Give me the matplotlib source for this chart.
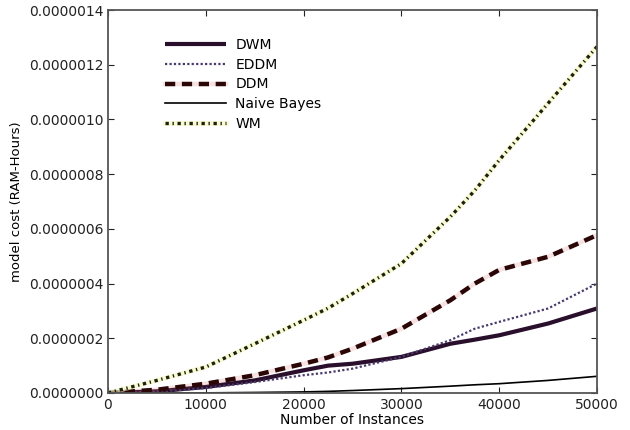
import matplotlib
matplotlib.use("Agg")
import matplotlib.pyplot as plt
from matplotlib.ticker import FormatStrFormatter
from matplotlib.legend_handler import HandlerTuple

# Number of processed instances
instances = [0, 5000, 10000, 15000, 20000, 22500, 25000, 30000, 35000, 37500, 40000, 45000, 50000]

# Model cost in RAM-Hours (units of 1e-6)
dwm = [0, 0.006, 0.022, 0.046, 0.083, 0.100, 0.107, 0.132, 0.180, 0.195, 0.211, 0.254, 0.309]
eddm = [0, 0.005, 0.018, 0.040, 0.065, 0.075, 0.089, 0.132, 0.193, 0.235, 0.260, 0.309, 0.400]
ddm = [0, 0.012, 0.034, 0.065, 0.107, 0.130, 0.162, 0.235, 0.339, 0.400, 0.450, 0.498, 0.577]
naive_bayes = [0, 0.0, 0.0005, 0.002, 0.004, 0.006, 0.009, 0.016, 0.025, 0.030, 0.034, 0.046, 0.061]
wm = [0, 0.046, 0.095, 0.180, 0.266, 0.310, 0.363, 0.473, 0.644, 0.740, 0.851, 1.059, 1.266]

labels = ["DWM", "EDDM", "DDM", "Naive Bayes", "WM"]

scale = 1e-6
def s(vals):
    return [v * scale for v in vals]

fig = plt.figure(figsize=(6.3, 4.3), dpi=100)
ax = fig.add_axes([108 / 630, 37 / 430, 489 / 630, 383 / 430])

h_dwm, = ax.plot(instances, s(dwm), color="#2a0f2c", lw=3.0, solid_capstyle="butt")
h_eddm, = ax.plot(instances, s(eddm), color="#4a3a6a", lw=1.6, ls=(0, (1, 1)))
ddm_under, = ax.plot(instances, s(ddm), color="#d06060", lw=3.2, alpha=0.18)
ddm_top, = ax.plot(instances, s(ddm), color="#2a0606", lw=3.2, ls=(0, (2.3, 1.5)))
h_nb, = ax.plot(instances, s(naive_bayes), color="black", lw=1.2)
wm_under, = ax.plot(instances, s(wm), color="#f4f7b8", lw=3.4, alpha=0.6)
wm_top, = ax.plot(instances, s(wm), color="#1e2010", lw=2.4, ls=(0, (1.0, 1.1, 0.4, 1.1)))

ax.set_xlim(0, 50000)
ax.set_ylim(0, 1.4e-6)
ax.set_xticks([0, 10000, 20000, 30000, 40000, 50000])
ax.set_yticks([i * 0.2e-6 for i in range(8)])
ax.yaxis.set_major_formatter(FormatStrFormatter("%.7f"))
ax.tick_params(direction="in", top=True, right=True, length=4, labelsize=10, colors="#222222")
for sp in ax.spines.values():
    sp.set_color("#555555")
    sp.set_linewidth(1.3)

ax.set_xlabel("Number of Instances", fontsize=10, labelpad=1)
ax.set_ylabel("model cost (RAM-Hours)", fontsize=9.5, labelpad=4)

ax.legend([h_dwm, h_eddm, (ddm_under, ddm_top), h_nb, (wm_under, wm_top)], labels,
          handler_map={tuple: HandlerTuple(ndivide=1, pad=0)},
          loc="upper left", bbox_to_anchor=(0.09, 0.96), frameon=False,
          fontsize=10, handlelength=4.4, handletextpad=0.7, labelspacing=0.42)

fig.savefig("out.png", dpi=100)
